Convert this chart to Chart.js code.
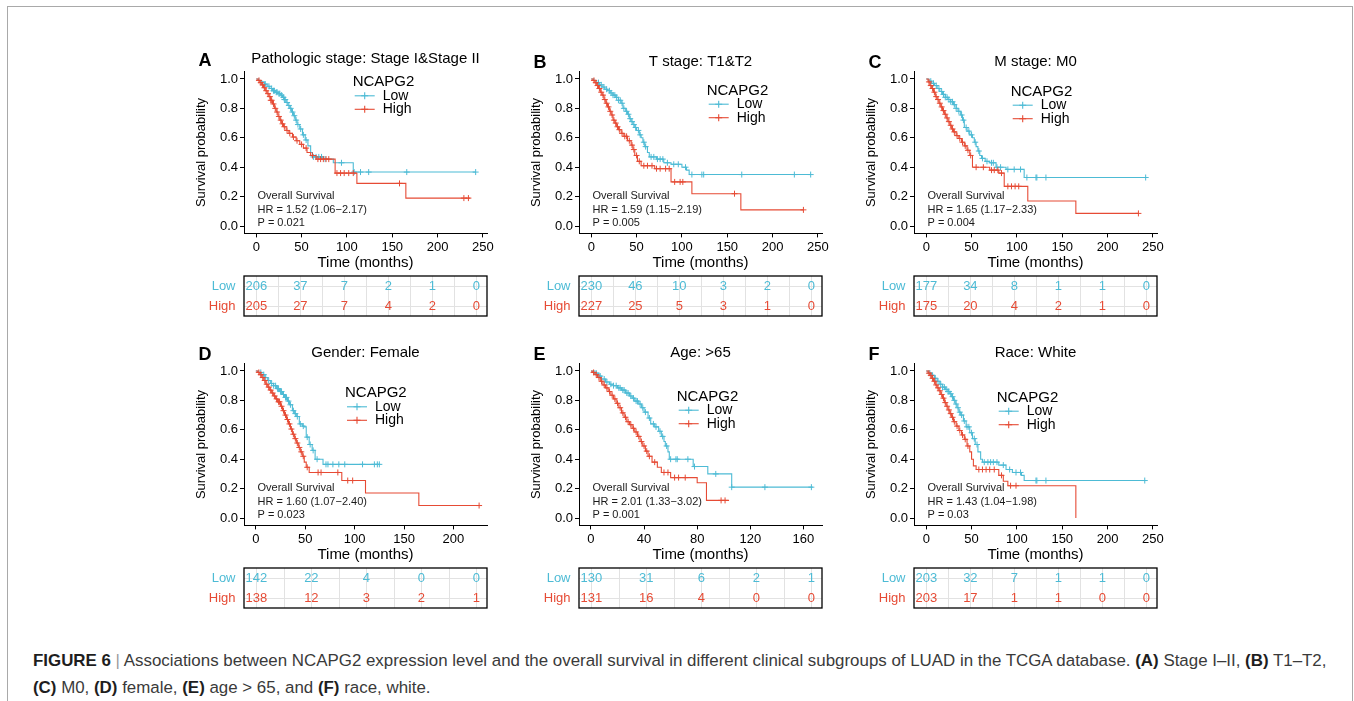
<!DOCTYPE html>
<html>
<head>
<meta charset="utf-8">
<script src="https://cdn.jsdelivr.net/npm/chart.js@4.4.1/dist/chart.umd.min.js"></script>
<style>
  body { margin: 0; background: #fff; width: 1354px; height: 701px; overflow: hidden; position: relative;
         font-family: "Liberation Sans", Arial, sans-serif; }
  .frame { position: absolute; left: 7px; top: 6px; width: 1344px; height: 720px;
           border: 1.5px solid #a9a9a9; border-bottom: none; }
  .panel { position: absolute; width: 310px; height: 282px; }
  .panel canvas { position: absolute; left: 0; }
  .caption { position: absolute; left: 33px; top: 647px; font-size: 16.9px; line-height: 27px;
             color: #3a3a3a; white-space: nowrap; }
  .caption b { color: #1e1e1e; }
  .caption .sep { color: #9a9a9a; }
</style>
</head>
<body>
<div class="frame"></div>
<div id="panels"></div>
<div class="caption"><b>FIGURE 6</b> <span class="sep">|</span> Associations between NCAPG2 expression level and the overall survival in different clinical subgroups of LUAD in the TCGA database. <b>(A)</b> Stage I–II, <b>(B)</b> T1–T2,<br><b>(C)</b> M0, <b>(D)</b> female, <b>(E)</b> age &gt; 65, and <b>(F)</b> race, white.</div>

<script>
// ---- labels ----
const panelLetters = ['A', 'B', 'C', 'D', 'E', 'F'];
const panelTitles = ['Pathologic stage: Stage I&Stage II', 'T stage: T1&T2', 'M stage: M0',
                     'Gender: Female', 'Age: >65', 'Race: White'];
const hrLabels = ['HR = 1.52 (1.06\u22122.17)', 'HR = 1.59 (1.15\u22122.19)', 'HR = 1.65 (1.17\u22122.33)',
                  'HR = 1.60 (1.07\u22122.40)', 'HR = 2.01 (1.33\u22123.02)', 'HR = 1.43 (1.04\u22121.98)'];
const pLabels = ['P = 0.021', 'P = 0.005', 'P = 0.004', 'P = 0.023', 'P = 0.001', 'P = 0.03'];
const groupNames = ['Low', 'High'];
const legendTitle = 'NCAPG2';

// ---- ticks ----
const survTicks = [0, 0.2, 0.4, 0.6, 0.8, 1.0];
const timeTicks250 = [0, 50, 100, 150, 200, 250];
const timeTicks200 = [0, 50, 100, 150, 200];
const timeTicks160 = [0, 40, 80, 120, 160];

// ---- numbers at risk ----
const aRiskLow = [206, 37, 7, 2, 1, 0],  aRiskHigh = [205, 27, 7, 4, 2, 0];
const bRiskLow = [230, 46, 10, 3, 2, 0], bRiskHigh = [227, 25, 5, 3, 1, 0];
const cRiskLow = [177, 34, 8, 1, 1, 0],  cRiskHigh = [175, 20, 4, 2, 1, 0];
const dRiskLow = [142, 22, 4, 0, 0],     dRiskHigh = [138, 12, 3, 2, 1];
const eRiskLow = [130, 31, 6, 2, 1],     eRiskHigh = [131, 16, 4, 0, 0];
const fRiskLow = [203, 32, 7, 1, 1, 0],  fRiskHigh = [203, 17, 1, 1, 0, 0];

// ---- Kaplan-Meier steps (time in months, survival after the step) and censor times ----
const aLowT = [0, 3, 6, 9, 12, 15, 18, 21, 24, 27, 29, 31, 33, 35, 37, 39, 41, 43, 45, 48, 51, 54, 57, 60, 62, 74, 85, 107, 242];
const aLowS = [1, 0.99, 0.98, 0.965, 0.95, 0.935, 0.92, 0.91, 0.90, 0.89, 0.875, 0.86, 0.84, 0.82, 0.80, 0.775, 0.75, 0.72, 0.69, 0.66, 0.62, 0.585, 0.545, 0.50, 0.47, 0.455, 0.43, 0.367, 0.367];
const aLowCens = [10, 14, 17, 19, 20, 22, 23, 25, 26, 28, 30, 31, 32, 34, 36, 38, 40, 42, 44, 46, 49, 52, 55, 63, 66, 69, 72, 76, 94, 108, 115, 124, 166, 242];
const aHighT = [0, 2, 4, 6, 8, 10, 12, 14, 16, 18, 20, 22, 24, 26, 28, 30, 33, 36, 40, 44, 48, 52, 56, 60, 66, 87, 111, 165, 236];
const aHighS = [1, 0.99, 0.975, 0.96, 0.94, 0.92, 0.90, 0.88, 0.855, 0.83, 0.80, 0.775, 0.745, 0.72, 0.695, 0.675, 0.65, 0.63, 0.605, 0.58, 0.555, 0.53, 0.50, 0.48, 0.455, 0.36, 0.29, 0.19, 0.19];
const aHighCens = [3, 5, 7, 9, 11, 13, 15, 16, 17, 19, 21, 23, 25, 27, 29, 31, 34, 37, 41, 45, 50, 55, 62, 68, 71, 74, 77, 80, 89, 93, 97, 102, 107, 158, 229, 234];

const bLowT = [0, 3, 6, 9, 12, 15, 18, 21, 24, 27, 30, 33, 35, 38, 40, 42, 44, 46, 48, 50, 53, 55, 57, 59, 62, 64, 72, 80, 88, 100, 105, 108, 242];
const bLowS = [1, 0.99, 0.975, 0.96, 0.945, 0.93, 0.92, 0.905, 0.89, 0.875, 0.855, 0.835, 0.80, 0.78, 0.76, 0.73, 0.71, 0.69, 0.67, 0.65, 0.62, 0.60, 0.57, 0.54, 0.50, 0.47, 0.455, 0.43, 0.42, 0.40, 0.38, 0.35, 0.35];
const bLowCens = [8, 11, 14, 17, 20, 22, 24, 26, 28, 30, 32, 34, 36, 39, 41, 43, 45, 47, 49, 52, 54, 58, 60, 66, 69, 73, 76, 79, 84, 91, 96, 104, 111, 122, 124, 166, 224, 242];
const bHighT = [0, 2, 4, 6, 8, 10, 12, 14, 16, 18, 20, 22, 24, 26, 28, 30, 33, 36, 40, 44, 46, 48, 51, 55, 70, 88, 111, 165, 234];
const bHighS = [1, 0.99, 0.975, 0.955, 0.935, 0.91, 0.89, 0.86, 0.835, 0.81, 0.78, 0.755, 0.72, 0.70, 0.675, 0.655, 0.63, 0.61, 0.58, 0.55, 0.52, 0.48, 0.44, 0.41, 0.39, 0.30, 0.22, 0.11, 0.11];
const bHighCens = [3, 5, 7, 9, 11, 13, 15, 17, 19, 21, 23, 25, 27, 29, 31, 34, 37, 39, 42, 45, 47, 50, 53, 58, 62, 67, 72, 76, 82, 86, 92, 98, 101, 158, 234];

const cLowT = [0, 3, 6, 9, 12, 15, 18, 21, 24, 27, 30, 33, 35, 38, 40, 42, 45, 48, 51, 53, 55, 57, 59, 61, 65, 70, 77, 88, 108, 242];
const cLowS = [1, 0.985, 0.97, 0.955, 0.935, 0.915, 0.895, 0.875, 0.86, 0.845, 0.825, 0.80, 0.78, 0.755, 0.72, 0.67, 0.645, 0.62, 0.60, 0.57, 0.54, 0.51, 0.48, 0.46, 0.44, 0.43, 0.40, 0.385, 0.33, 0.33];
const cLowCens = [5, 8, 11, 14, 17, 19, 21, 23, 25, 27, 29, 31, 33, 36, 39, 41, 44, 47, 50, 54, 58, 62, 67, 72, 74, 78, 82, 90, 97, 104, 111, 121, 122, 132, 242];
const cHighT = [0, 2, 4, 6, 8, 10, 12, 14, 16, 18, 20, 22, 24, 26, 28, 30, 33, 36, 39, 42, 45, 48, 51, 70, 80, 86, 112, 165, 234];
const cHighS = [1, 0.98, 0.955, 0.935, 0.91, 0.88, 0.86, 0.835, 0.81, 0.785, 0.76, 0.735, 0.71, 0.685, 0.66, 0.64, 0.615, 0.595, 0.57, 0.545, 0.515, 0.48, 0.40, 0.38, 0.36, 0.27, 0.17, 0.086, 0.086];
const cHighCens = [3, 5, 7, 9, 11, 13, 15, 17, 19, 21, 23, 25, 27, 29, 31, 34, 37, 40, 43, 46, 49, 55, 63, 72, 75, 79, 83, 90, 94, 98, 102, 234];

const dLowT = [0, 3, 6, 9, 12, 15, 18, 21, 24, 27, 29, 32, 34, 37, 39, 41, 44, 47, 49, 51, 54, 57, 60, 68, 125];
const dLowS = [1, 0.99, 0.975, 0.955, 0.935, 0.915, 0.90, 0.88, 0.86, 0.84, 0.82, 0.795, 0.77, 0.73, 0.71, 0.69, 0.64, 0.625, 0.62, 0.55, 0.50, 0.46, 0.40, 0.365, 0.365];
const dLowCens = [5, 8, 10, 13, 16, 18, 20, 22, 23, 25, 26, 28, 30, 31, 33, 35, 38, 40, 42, 45, 48, 52, 55, 58, 62, 71, 73, 78, 84, 90, 108, 120, 123, 125];
const dHighT = [0, 2, 4, 6, 8, 10, 12, 14, 16, 18, 20, 22, 25, 27, 29, 31, 33, 35, 37, 39, 41, 43, 45, 47, 49, 51, 54, 87, 111, 165, 226];
const dHighS = [1, 0.99, 0.975, 0.955, 0.935, 0.91, 0.89, 0.87, 0.85, 0.83, 0.81, 0.79, 0.76, 0.73, 0.70, 0.67, 0.64, 0.605, 0.57, 0.54, 0.51, 0.48, 0.45, 0.42, 0.38, 0.345, 0.31, 0.255, 0.17, 0.085, 0.085];
const dHighCens = [3, 5, 7, 9, 11, 13, 15, 17, 19, 21, 23, 24, 26, 28, 30, 32, 34, 36, 38, 40, 42, 44, 46, 48, 52, 63, 66, 83, 93, 98, 226];

const eLowT = [0, 3, 6, 8, 11, 14, 17, 20, 23, 26, 29, 31, 33, 36, 38, 40, 43, 45, 48, 51, 53, 55, 56, 58, 59, 77, 88, 106, 167];
const eLowS = [1, 0.985, 0.965, 0.945, 0.925, 0.91, 0.90, 0.885, 0.87, 0.85, 0.83, 0.815, 0.795, 0.775, 0.75, 0.72, 0.68, 0.64, 0.62, 0.59, 0.555, 0.52, 0.49, 0.45, 0.40, 0.35, 0.30, 0.21, 0.21];
const eLowCens = [4, 7, 10, 12, 15, 17, 19, 21, 22, 24, 25, 27, 28, 30, 32, 34, 35, 37, 39, 41, 44, 47, 49, 52, 54, 57, 60, 64, 65, 73, 78, 94, 106, 131, 166];
const eHighT = [0, 1, 3, 5, 7, 9, 11, 13, 15, 17, 19, 21, 23, 25, 27, 29, 31, 33, 35, 37, 39, 41, 43, 46, 50, 53, 60, 80, 87, 104];
const eHighS = [1, 0.99, 0.975, 0.955, 0.93, 0.905, 0.885, 0.86, 0.835, 0.81, 0.78, 0.75, 0.715, 0.685, 0.655, 0.635, 0.61, 0.585, 0.555, 0.52, 0.49, 0.455, 0.42, 0.38, 0.345, 0.31, 0.275, 0.24, 0.12, 0.12];
const eHighCens = [2, 4, 6, 8, 10, 12, 14, 16, 18, 20, 22, 24, 26, 28, 30, 32, 34, 36, 38, 40, 42, 44, 48, 55, 58, 63, 66, 71, 98, 101];

const fLowT = [0, 3, 6, 9, 12, 15, 18, 21, 24, 26, 28, 30, 32, 34, 36, 38, 41, 44, 48, 51, 54, 57, 60, 62, 80, 88, 95, 105, 108, 242];
const fLowS = [1, 0.985, 0.97, 0.95, 0.93, 0.91, 0.89, 0.875, 0.86, 0.845, 0.825, 0.80, 0.775, 0.75, 0.72, 0.70, 0.66, 0.62, 0.58, 0.54, 0.50, 0.45, 0.40, 0.38, 0.36, 0.33, 0.31, 0.29, 0.255, 0.255];
const fLowCens = [4, 7, 10, 13, 16, 18, 20, 22, 24, 25, 27, 29, 31, 33, 35, 37, 39, 42, 45, 47, 50, 53, 56, 64, 68, 71, 74, 78, 85, 92, 99, 104, 121, 122, 132, 241];
const fHighT = [0, 2, 4, 6, 8, 10, 12, 14, 16, 18, 20, 22, 24, 26, 28, 30, 33, 36, 39, 42, 45, 48, 50, 52, 55, 80, 85, 90, 165];
const fHighS = [1, 0.985, 0.97, 0.95, 0.93, 0.905, 0.885, 0.865, 0.84, 0.815, 0.785, 0.76, 0.735, 0.71, 0.685, 0.655, 0.625, 0.595, 0.565, 0.535, 0.49, 0.45, 0.40, 0.355, 0.33, 0.29, 0.25, 0.22, 0];
const fHighCens = [3, 5, 7, 9, 11, 13, 15, 17, 19, 21, 23, 25, 27, 29, 31, 34, 37, 40, 43, 46, 58, 62, 66, 70, 75, 83, 93, 99];

// ---- look ----
const BLUE = '#4DBBD5';
const RED = '#E64B35';
const FONT = '"Liberation Sans", Arial, Helvetica, sans-serif';
Chart.defaults.font.family = FONT;
Chart.defaults.color = '#000';

// panel layout (page px), legend anchor and label offsets inside a panel
const panelPos = [[190, 40], [525, 40], [860, 40], [190, 332], [525, 332], [860, 332]];
const legendPos = [[162.7, 42.3], [181.7, 50.7], [150.7, 51.7], [155, 61.3], [151.7, 64.7], [136.7, 65.7]];
const titleY = [18.5, 21.5, 21.5, 20.5, 21.3, 20.5];
const letterY = [20.7, 23.3, 23.3, 23, 23, 23];
const noteY = [155.7, 169.8, 182.6];

const panels = [
  { ticks: timeTicks250, xr: [-13.5, 254.5], tr: [-14.1, 262.2], minor: 25,
    low: [aLowT, aLowS, aLowCens], high: [aHighT, aHighS, aHighCens], risk: [aRiskLow, aRiskHigh] },
  { ticks: timeTicks250, xr: [-13.5, 254.5], tr: [-14.1, 262.2], minor: 25,
    low: [bLowT, bLowS, bLowCens], high: [bHighT, bHighS, bHighCens], risk: [bRiskLow, bRiskHigh] },
  { ticks: timeTicks250, xr: [-13.5, 254.5], tr: [-14.1, 262.2], minor: 25,
    low: [cLowT, cLowS, cLowCens], high: [cHighT, cHighS, cHighCens], risk: [cRiskLow, cRiskHigh] },
  { ticks: timeTicks200, xr: [-12, 234], tr: [-11.25, 209.7], minor: 25,
    low: [dLowT, dLowS, dLowCens], high: [dHighT, dHighS, dHighCens], risk: [dRiskLow, dRiskHigh] },
  { ticks: timeTicks160, xr: [-9, 174], tr: [-9, 167.8], minor: 20,
    low: [eLowT, eLowS, eLowCens], high: [eHighT, eHighS, eHighCens], risk: [eRiskLow, eRiskHigh] },
  { ticks: timeTicks250, xr: [-13.5, 254.5], tr: [-14.1, 262.2], minor: 25,
    low: [fLowT, fLowS, fLowCens], high: [fHighT, fHighS, fHighCens], risk: [fRiskLow, fRiskHigh] },
];

// survival value of a step curve at time t (censor marks sit on the curve)
function survAt(T, S, t) {
  let s = S[0];
  for (let k = 0; k < T.length; k++) if (T[k] <= t) s = S[k];
  return s;
}

function stepLine(T, S, color) {
  return {
    data: T.map((t, k) => ({ x: t, y: S[k] })),
    showLine: true, stepped: true, borderColor: color, borderWidth: 1.1,
    pointRadius: 0, fill: false,
  };
}

function censorMarks(curve, color) {
  const [T, S, C] = curve;
  return {
    data: C.map(t => ({ x: t, y: survAt(T, S, t) })),
    showLine: false, pointStyle: 'cross', pointRadius: 3, borderWidth: 1,
    borderColor: color, backgroundColor: color,
  };
}

function drawCross(ctx, x, y, r) {
  ctx.beginPath();
  ctx.moveTo(x - r, y); ctx.lineTo(x + r, y);
  ctx.moveTo(x, y - r); ctx.lineTo(x, y + r);
  ctx.stroke();
}

const panelText = {
  id: 'panelText',
  afterDraw(chart, args, o) {
    const { ctx, chartArea } = chart;
    ctx.save();
    ctx.fillStyle = '#000';
    ctx.textBaseline = 'middle';
    ctx.textAlign = 'left';
    ctx.font = 'bold 18px ' + FONT;
    ctx.fillText(o.letter, 8.5, o.letterY);
    ctx.font = '15px ' + FONT;
    ctx.textAlign = 'center';
    ctx.fillText(o.title, (chartArea.left + chartArea.right) / 2, o.titleY);

    ctx.textAlign = 'left';
    ctx.font = '11px ' + FONT;
    ctx.fillStyle = '#1a1a1a';
    o.notes.forEach((t, k) => ctx.fillText(t, 67.5, noteY[k]));

    const [lx, ly] = o.legend;
    ctx.fillStyle = '#000';
    ctx.font = '15px ' + FONT;
    ctx.fillText(legendTitle, lx, ly);
    ctx.font = '14px ' + FONT;
    [BLUE, RED].forEach((c, k) => {
      const y = ly + 13.5 * (k + 1);
      ctx.strokeStyle = c;
      ctx.lineWidth = 1.1;
      ctx.beginPath(); ctx.moveTo(lx + 2, y); ctx.lineTo(lx + 22, y); ctx.stroke();
      drawCross(ctx, lx + 12, y, 3.5);
      ctx.fillStyle = '#000';
      ctx.fillText(groupNames[k], lx + 30, y);
    });
    ctx.restore();
  }
};

// risk table: faint grid, counts at each time, row names and a box round the area
const riskTable = {
  id: 'riskTable',
  beforeDatasetsDraw(chart, args, o) {
    const { ctx, chartArea: a, scales: { x, y } } = chart;
    ctx.save();
    ctx.strokeStyle = '#e2e2e2';
    ctx.lineWidth = 1;
    ctx.beginPath();
    for (let v = 0; v <= o.last; v += o.minor) {
      const px = Math.round(x.getPixelForValue(v)) + 0.5;
      ctx.moveTo(px, a.top); ctx.lineTo(px, a.bottom);
    }
    groupNames.forEach((g, k) => {
      const py = Math.round(y.getPixelForValue(k)) + 0.5;
      ctx.moveTo(a.left, py); ctx.lineTo(a.right, py);
    });
    ctx.stroke();
    ctx.restore();
  },
  afterDatasetsDraw(chart) {
    const { ctx, chartArea: a, scales: { y } } = chart;
    ctx.save();
    ctx.font = '13px ' + FONT;
    ctx.textBaseline = 'middle';
    ctx.textAlign = 'center';
    chart.data.datasets.forEach((ds, i) => {
      ctx.fillStyle = ds.textColor;
      chart.getDatasetMeta(i).data.forEach((pt, k) => ctx.fillText(String(ds.counts[k]), pt.x, pt.y));
    });
    ctx.textAlign = 'right';
    groupNames.forEach((g, k) => {
      ctx.fillStyle = k === 0 ? BLUE : RED;
      ctx.fillText(g, a.left - 8.5, y.getPixelForValue(k));
    });
    ctx.strokeStyle = '#000';
    ctx.lineWidth = 1.3;
    ctx.strokeRect(a.left, a.top, a.right - a.left, a.bottom - a.top);
    ctx.restore();
  }
};

function kmChart(canvas, p, i) {
  return new Chart(canvas, {
    type: 'scatter',
    data: {
      datasets: [
        censorMarks(p.high, RED), stepLine(p.high[0], p.high[1], RED),
        censorMarks(p.low, BLUE), stepLine(p.low[0], p.low[1], BLUE),
      ],
    },
    options: {
      responsive: false, animation: false, events: [],
      layout: { padding: { left: 0, right: 13, top: 31.6, bottom: 0 } },
      plugins: {
        legend: { display: false }, tooltip: { enabled: false },
        panelText: {
          letter: panelLetters[i], title: panelTitles[i], titleY: titleY[i], letterY: letterY[i],
          notes: ['Overall Survival', hrLabels[i], pLabels[i]], legend: legendPos[i],
        },
      },
      scales: {
        x: {
          type: 'linear', min: p.xr[0], max: p.xr[1],
          afterFit: s => { s.height = 42.6; },
          afterBuildTicks: s => { s.ticks = p.ticks.map(v => ({ value: v })); },
          ticks: { font: { size: 13 }, color: '#000', padding: 2, maxRotation: 0, autoSkip: false },
          grid: { drawOnChartArea: false, tickLength: 4, color: '#000' },
          border: { color: '#000', width: 1 },
          title: { display: true, text: 'Time (months)', font: { size: 15 }, color: '#000', padding: { top: 0, bottom: 4 } },
        },
        y: {
          min: -0.05, max: 1.05,
          afterFit: s => { s.width = 54; },
          afterBuildTicks: s => { s.ticks = survTicks.map(v => ({ value: v })); },
          ticks: { font: { size: 13 }, color: '#000', padding: 2, autoSkip: false, callback: v => v.toFixed(1) },
          grid: { drawOnChartArea: false, tickLength: 4, color: '#000' },
          border: { color: '#000', width: 1 },
          title: { display: true, text: 'Survival probability', font: { size: 13 }, color: '#000', padding: { top: 4, bottom: 0 } },
        },
      },
    },
    plugins: [panelText],
  });
}

function riskChart(canvas, p) {
  return new Chart(canvas, {
    type: 'scatter',
    data: {
      datasets: groupNames.map((g, k) => ({
        data: p.ticks.map(t => ({ x: t, y: g })),
        counts: p.risk[k], textColor: k === 0 ? BLUE : RED, pointRadius: 0,
      })),
    },
    options: {
      responsive: false, animation: false, events: [],
      layout: { padding: { left: 54, right: 13, top: 6, bottom: 4 } },
      plugins: { legend: { display: false }, tooltip: { enabled: false },
                 riskTable: { minor: p.minor, last: p.tr[1] } },
      scales: {
        x: { type: 'linear', display: false, min: p.tr[0], max: p.tr[1] },
        y: { type: 'category', display: false, labels: groupNames, offset: true },
      },
    },
    plugins: [riskTable],
  });
}

const host = document.getElementById('panels');
panels.forEach((p, i) => {
  const div = document.createElement('div');
  div.className = 'panel';
  div.style.left = panelPos[i][0] + 'px';
  div.style.top = panelPos[i][1] + 'px';
  const km = document.createElement('canvas');
  km.width = 310; km.height = 236; km.style.top = '0px';
  const tb = document.createElement('canvas');
  tb.width = 310; tb.height = 50; tb.style.top = '230px';
  div.appendChild(km); div.appendChild(tb);
  host.appendChild(div);
  kmChart(km, p, i);
  riskChart(tb, p);
});
</script>
</body>
</html>
